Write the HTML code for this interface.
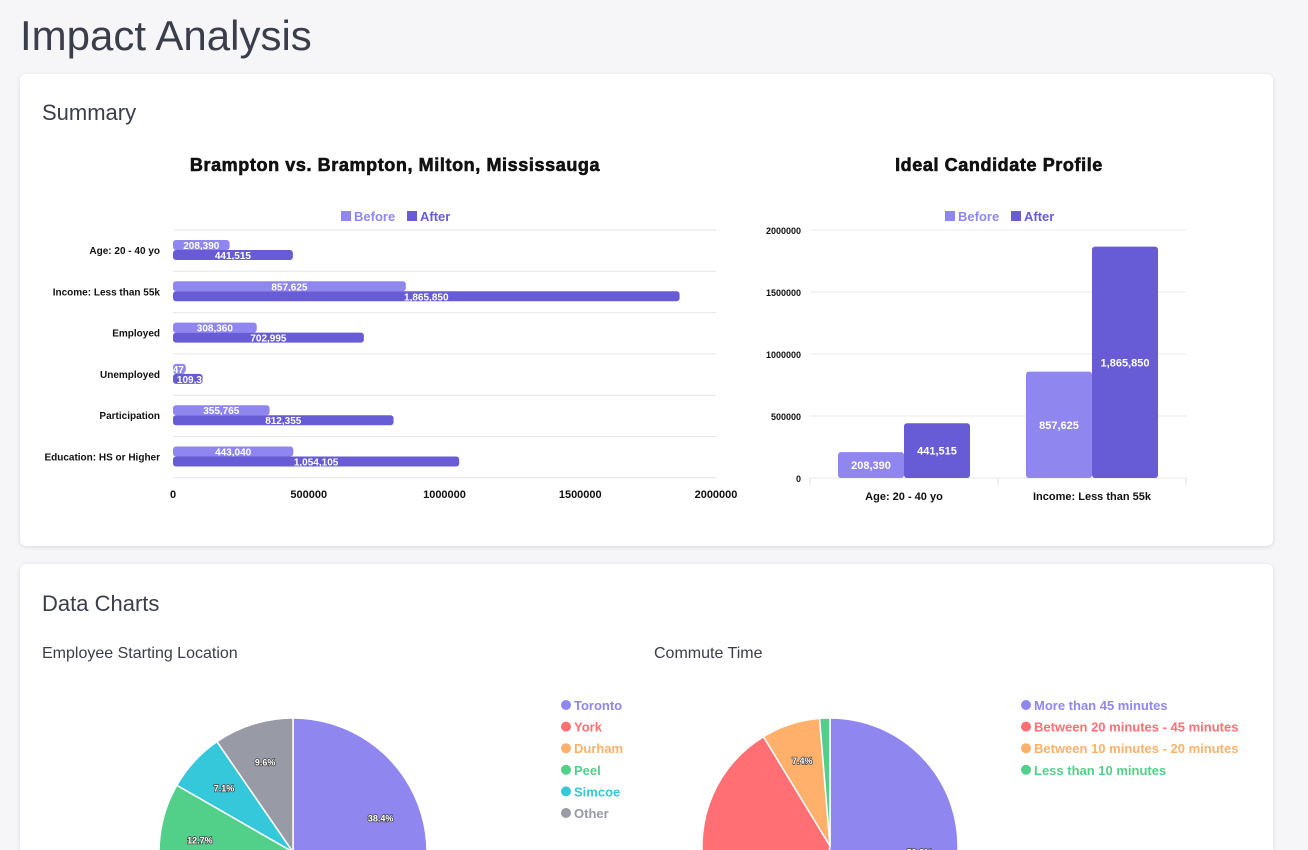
<!DOCTYPE html>
<html><head><meta charset="utf-8">
<style>
html,body{margin:0;width:1308px;height:850px;overflow:hidden}
body{background:#f6f6f8;font-family:"Liberation Sans",sans-serif;position:relative}
.card{position:absolute;background:#fff;border-radius:6px;box-shadow:0 1px 4px rgba(0,0,0,.12)}
h1{position:absolute;left:20px;top:12px;margin:0;font-weight:400;font-size:42px;color:#3a3d4a}
.h2{position:absolute;font-size:22px;color:#3a3d4a}
.h3{position:absolute;font-size:16px;color:#3a3d4a}
svg text{font-family:"Liberation Sans",sans-serif}
</style></head><body>
<h1>Impact Analysis</h1>
<div class="card" style="left:20px;top:74px;width:1253px;height:472px"></div>
<div class="card" style="left:20px;top:564px;width:1253px;height:286px;border-radius:6px 6px 0 0"></div>
<div class="h2" style="left:42px;top:100px">Summary</div>
<div class="h2" style="left:42px;top:591px">Data Charts</div>
<div class="h3" style="left:42px;top:645px">Employee Starting Location</div>
<div class="h3" style="left:654px;top:645px">Commute Time</div>
<svg id="s" width="1308" height="850" style="position:absolute;left:0;top:0"></svg>
<script>
const hCats=["Age: 20 - 40 yo","Income: Less than 55k","Employed","Unemployed","Participation","Education: HS or Higher"];
const hBefore=[208390,857625,308360,47000,355765,443040];
const hAfter=[441515,1865850,702995,109300,812355,1054105];
const hTicks=[0,500000,1000000,1500000,2000000];
const vCats=["Age: 20 - 40 yo","Income: Less than 55k"];
const vBefore=[208390,857625];
const vAfter=[441515,1865850];
const vTicks=[0,500000,1000000,1500000,2000000];
const p1Labels=["Toronto","York","Durham","Peel","Simcoe","Other"];
const p1Values=[38.4,24.5,7.7,12.7,7.1,9.6];
const p1Colors=["#8f86f0","#ff6f74","#ffb06a","#52d08a","#34c8da","#989aa6"];
const p2Labels=["More than 45 minutes","Between 20 minutes - 45 minutes","Between 10 minutes - 20 minutes","Less than 10 minutes"];
const p2Values=[52.3,39.0,7.4,1.3];
const p2Colors=["#8f86f0","#ff6f74","#ffb06a","#52d08a"];
const C1="#8f86f0",C2="#675bd6";
const s=document.getElementById('s');const NS="http://www.w3.org/2000/svg";
function el(t,a,txt,parent){const e=document.createElementNS(NS,t);for(const k in a)e.setAttribute(k,a[k]);if(txt!=null)e.textContent=txt;(parent||s).appendChild(e);return e;}
const fmt=v=>v.toLocaleString('en-US');
let t=el('text',{x:395,y:171,'text-anchor':'middle','font-size':18,'font-weight':'bold',fill:'#111',stroke:'#111','stroke-width':0.6,'letter-spacing':0.6},"Brampton vs. Brampton, Milton, Mississauga");

t=el('text',{x:999,y:171,'text-anchor':'middle','font-size':18,'font-weight':'bold',fill:'#111',stroke:'#111','stroke-width':0.6,'letter-spacing':0.6},"Ideal Candidate Profile");

function legend(cx,y,nm){
 let r=el('rect',{x:cx-55,y:y-10,width:10,height:10,fill:C1});
 el('text',{x:cx-42,y:y,'font-size':13,fill:C1,'font-weight':'bold'},"Before");
 r=el('rect',{x:cx+11,y:y-10,width:10,height:10,fill:C2});
 el('text',{x:cx+24,y:y,'font-size':13,fill:C2,'font-weight':'bold'},"After");
}
legend(396,221,'bar');legend(1000,221,'column');
const hx=v=>173+v/2000000*543, top0=230, rowH=41.3;
for(let i=0;i<=6;i++)el('line',{x1:173,x2:716,y1:top0+i*rowH,y2:top0+i*rowH,stroke:'#e6e6e6','stroke-width':1});
hTicks.forEach(v=>{el('text',{x:hx(v),y:498,'text-anchor':'middle','font-size':11,fill:'#111','font-weight':'bold'},String(v));});
const defs=el('defs',{});
hCats.forEach((c,i)=>{
 const y=top0+i*rowH;
 el('text',{x:160,y:y+24,'text-anchor':'end','font-size':10,fill:'#111','font-weight':'bold'},c);
 let r=el('rect',{x:173,y:y+10,width:hx(hBefore[i])-173,height:10,rx:3,fill:C1});
 
 r=el('rect',{x:173,y:y+20,width:hx(hAfter[i])-173,height:10,rx:3,fill:C2});
 
 const cp=el('clipPath',{id:'cb'+i},null,defs);el('rect',{x:173,y:y+10,width:hx(hBefore[i])-173,height:10},null,cp);
 const ca=el('clipPath',{id:'ca'+i},null,defs);el('rect',{x:173,y:y+20,width:hx(hAfter[i])-173,height:10},null,ca);
 el('text',{x:Math.max((173+hx(hBefore[i]))/2,188),y:y+19,'text-anchor':'middle','font-size':10,fill:'#fff','font-weight':'bold','clip-path':'url(#cb'+i+')'},fmt(hBefore[i]));
 el('text',{x:Math.max((173+hx(hAfter[i]))/2,195),y:y+29,'text-anchor':'middle','font-size':10,fill:'#fff','font-weight':'bold','clip-path':'url(#ca'+i+')'},fmt(hAfter[i]));
});
const vy=v=>478-v/2000000*248;
vTicks.forEach(v=>{el('line',{x1:810,x2:1186,y1:vy(v),y2:vy(v),stroke:'#e8e8e8'});el('text',{x:801,y:vy(v)+4,'text-anchor':'end','font-size':9,fill:'#111','font-weight':'bold'},String(v));});
[810,998,1186].forEach(x=>el('line',{x1:x,x2:x,y1:478,y2:484,stroke:'#ddd'}));
vCats.forEach((c,i)=>{
 const gx=810+i*188;
 el('text',{x:gx+94,y:500,'text-anchor':'middle','font-size':11,fill:'#111','font-weight':'bold'},c);
 let r=el('rect',{x:gx+28,y:vy(vBefore[i]),width:66,height:478-vy(vBefore[i]),rx:3,fill:C1});
 
 r=el('rect',{x:gx+94,y:vy(vAfter[i]),width:66,height:478-vy(vAfter[i]),rx:3,fill:C2});
 
 el('text',{x:gx+61,y:(vy(vBefore[i])+478)/2+4,'text-anchor':'middle','font-size':11,fill:'#fff','font-weight':'bold'},fmt(vBefore[i]));
 el('text',{x:gx+127,y:(vy(vAfter[i])+478)/2+4,'text-anchor':'middle','font-size':11,fill:'#fff','font-weight':'bold'},fmt(vAfter[i]));
});
function pie(cx,cy,r,vals,cols,labels,lx,nm){
 const tot=vals.reduce((a,b)=>a+b,0);let a=-Math.PI/2;
 vals.forEach((v,i)=>{
  const a2=a+v/tot*2*Math.PI;
  const x1=cx+r*Math.cos(a),y1=cy+r*Math.sin(a),x2=cx+r*Math.cos(a2),y2=cy+r*Math.sin(a2);
  const p=el('path',{d:`M${cx},${cy}L${x1},${y1}A${r},${r} 0 ${a2-a>Math.PI?1:0} 1 ${x2},${y2}Z`,fill:cols[i],stroke:'#fff','stroke-width':1.5});
  
  if(v>=5){const m=(a+a2)/2;el('text',{x:cx+r*0.7*Math.cos(m),y:cy+r*0.7*Math.sin(m)+3,'text-anchor':'middle','font-size':9,'font-weight':'bold',fill:'#fff',stroke:'#444','stroke-width':1.5,'paint-order':'stroke'},v.toFixed(1)+'%');}
  a=a2;
 });
 labels.forEach((l,i)=>{
  const y=705+i*21.6;
  const c=el('circle',{cx:lx+5,cy:y,r:5,fill:cols[i]});
  el('text',{x:lx+13,y:y+5,'font-size':13,'font-weight':'bold',fill:cols[i]},l);
 });
}
pie(293,852,134,p1Values,p1Colors,p1Labels,561,'location');
pie(830,846,128,p2Values,p2Colors,p2Labels,1021,'commute');
</script>
</body></html>
